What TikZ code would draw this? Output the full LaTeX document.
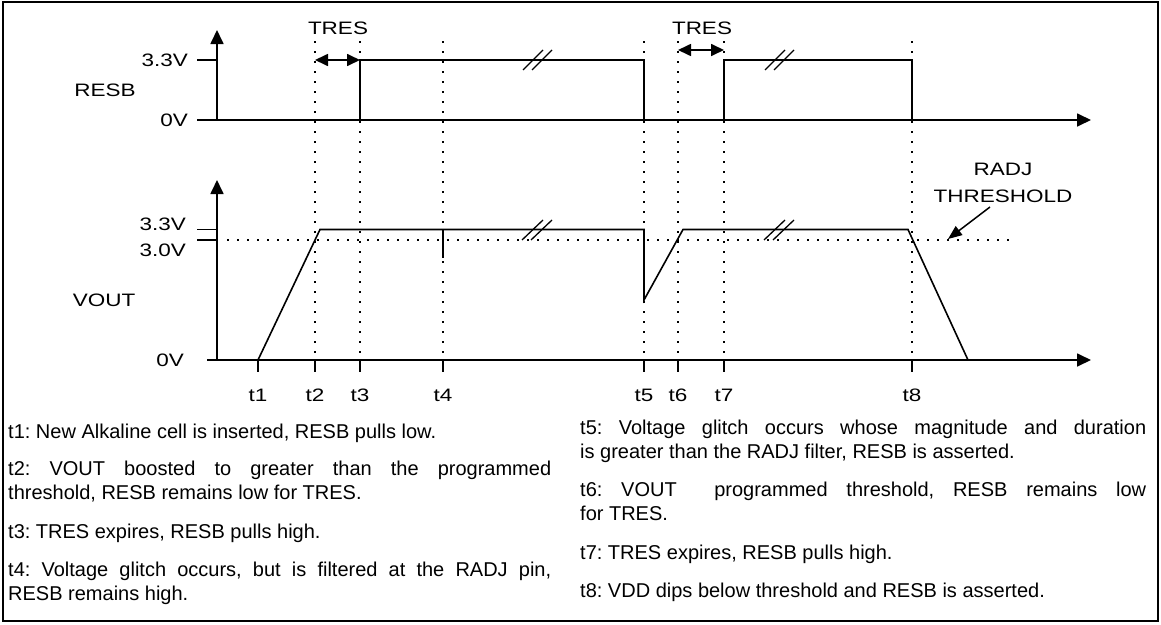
\documentclass[tikz,border=0pt]{standalone}
\usepackage{fontspec}
\setmainfont{Liberation Sans}
\newfontfamily\lblfont{Liberation Sans}[FakeStretch=1.25]
\usetikzlibrary{positioning,arrows.meta,calc}

\begin{document}
\frenchspacing
\begin{tikzpicture}[x=1pt, y=-1pt,
    lbl/.style={font=\lblfont\fontsize{18}{27}\selectfont, inner sep=0pt},
    axis/.style={line width=1.7pt, -{Triangle[length=14pt,width=13pt]}},
    sig/.style={line width=1.6pt, line join=miter},
    guide/.style={line width=1.7pt, dash pattern=on 1.7pt off 8.3pt},
    tickmark/.style={line width=1.6pt},
    brk/.style={line width=1.3pt},
    dur/.style={line width=1.7pt, {Triangle[length=13pt,width=12pt]}-{Triangle[length=13pt,width=12pt]}},
    pointer/.style={line width=1.5pt, -{Triangle[length=14pt,width=11pt]}},
    note/.style={font=\fontsize{20}{24}\selectfont, inner sep=0pt, anchor=base west, align=justify}
]
\useasboundingbox (0,0) rectangle (1161,624);
\draw[line width=1.8pt] (3,2) rectangle (1158,621);

% axes origins and levels
\coordinate (R0) at (217,120);
\coordinate (R1) at (217,60);
\coordinate (V0) at (217,360);
\coordinate (V33) at (217,229.5);
\coordinate (V30) at (217,240);

% time instants
\coordinate (T1) at (258,0);
\coordinate (T2) at (315,0);
\coordinate (T3) at (360,0);
\coordinate (T4) at (443,0);
\coordinate (T5) at (644,0);
\coordinate (T6) at (678,0);
\coordinate (T7) at (724,0);
\coordinate (T8) at (912,0);

% RESB
\draw[axis] (R0) -- (217,30);
\draw[axis] (197,120) -- (1091,120);
\draw[tickmark] (197,60) -- (R1);
\node[lbl, anchor=east] (resbhi) at (188,60) {3.3V};
\node[lbl, anchor=east] (resblo) at (188,120) {0V};
\node[lbl] (resb) at (105,90) {RESB};

% VOUT
\draw[axis] (V0) -- (217,180);
\draw[axis] (207,360) -- (1091,360);
\draw[tickmark] (197,229.5) -- (V33);
\draw[tickmark] (197,240) -- (V30);
\node[lbl, anchor=east] (vouthi) at (186,224) {3.3V};
\node[lbl, anchor=east] (voutth) at (186,250) {3.0V};
\node[lbl, anchor=east] (voutlo) at (184,360) {0V};
\node[lbl] (vout) at (104,300) {VOUT};

% threshold
\draw[guide] (227,240) -- (1010,240);
\node[lbl, align=center] (radj) at (1003,183) {RADJ\\THRESHOLD};
\coordinate (thr) at (948,239);
\draw[pointer] ([xshift=-13pt,yshift=-4pt]radj.south) -- (thr);

% time markers
\foreach \t in {T2,T3,T4,T5,T6,T7,T8}
  \draw[guide] (\t |- 0,41) -- (\t |- V0);
\foreach \t/\n in {T1/t1,T2/t2,T3/t3,T4/t4,T5/t5,T6/t6,T7/t7,T8/t8} {
  \draw[tickmark] (\t |- V0) -- ++(0,12);
  \node[lbl] (lab\n) at ($(\t |- V0)+(0,35)$) {\n};
}

% signals
\draw[sig] (T3 |- R0) -- (T3 |- R1) -- (T5 |- R1) -- (T5 |- R0);
\draw[sig] (T7 |- R0) -- (T7 |- R1) -- (T8 |- R1) -- (T8 |- R0);
\draw[sig] (T1 |- V0) -- (320,229.5) -- (T5 |- V33) -- (644,300) -- (683,229.5) -- (908,229.5) -- (968,360);
\draw[sig] (T4 |- V33) -- (443,258);

% breaks
\foreach \bx in {523,765} {
  \draw[brk] (\bx,70) -- ++(20,-20);
  \draw[brk] (\bx+9,70) -- ++(20,-20);
  \draw[brk] (\bx-1,240) -- ++(21,-20);
  \draw[brk] (\bx+8,240) -- ++(21,-20);
}

% TRES
\draw[dur] (T2 |- 0,60) -- (T3 |- 0,60);
\draw[dur] (T6 |- 0,50) -- (T7 |- 0,50);
\node[lbl] (tres1) at (338,28) {TRES};
\node[lbl] (tres2) at (702,28) {TRES};

% notes
\node[note, text width=543pt] (n1) at (8,438) {t1: New Alkaline cell is inserted, RESB pulls low.};
\node[note, text width=543pt] (n2) at (8,475.5) {t2: VOUT boosted to greater than the programmed\linebreak threshold, RESB remains low for TRES.};
\node[note, text width=543pt] (n3) at (8,538) {t3: TRES expires, RESB pulls high.};
\node[note, text width=543pt] (n4) at (8,576.5) {t4: Voltage glitch occurs, but is filtered at the RADJ pin,\linebreak RESB remains high.};
\node[note, text width=566pt] (n5) at (580,434.5) {t5: Voltage glitch occurs whose magnitude and duration\linebreak is greater than the RADJ filter, RESB is asserted.};
\node[note, text width=566pt] (n6) at (580,496.5) {t6: VOUT\ \ programmed threshold, RESB remains low\linebreak for TRES.};
\node[note, text width=566pt] (n7) at (580,559.5) {t7: TRES expires, RESB pulls high.};
\node[note, text width=566pt] (n8) at (580,597.5) {t8: VDD dips below threshold and RESB is asserted.};
\end{tikzpicture}
\end{document}
